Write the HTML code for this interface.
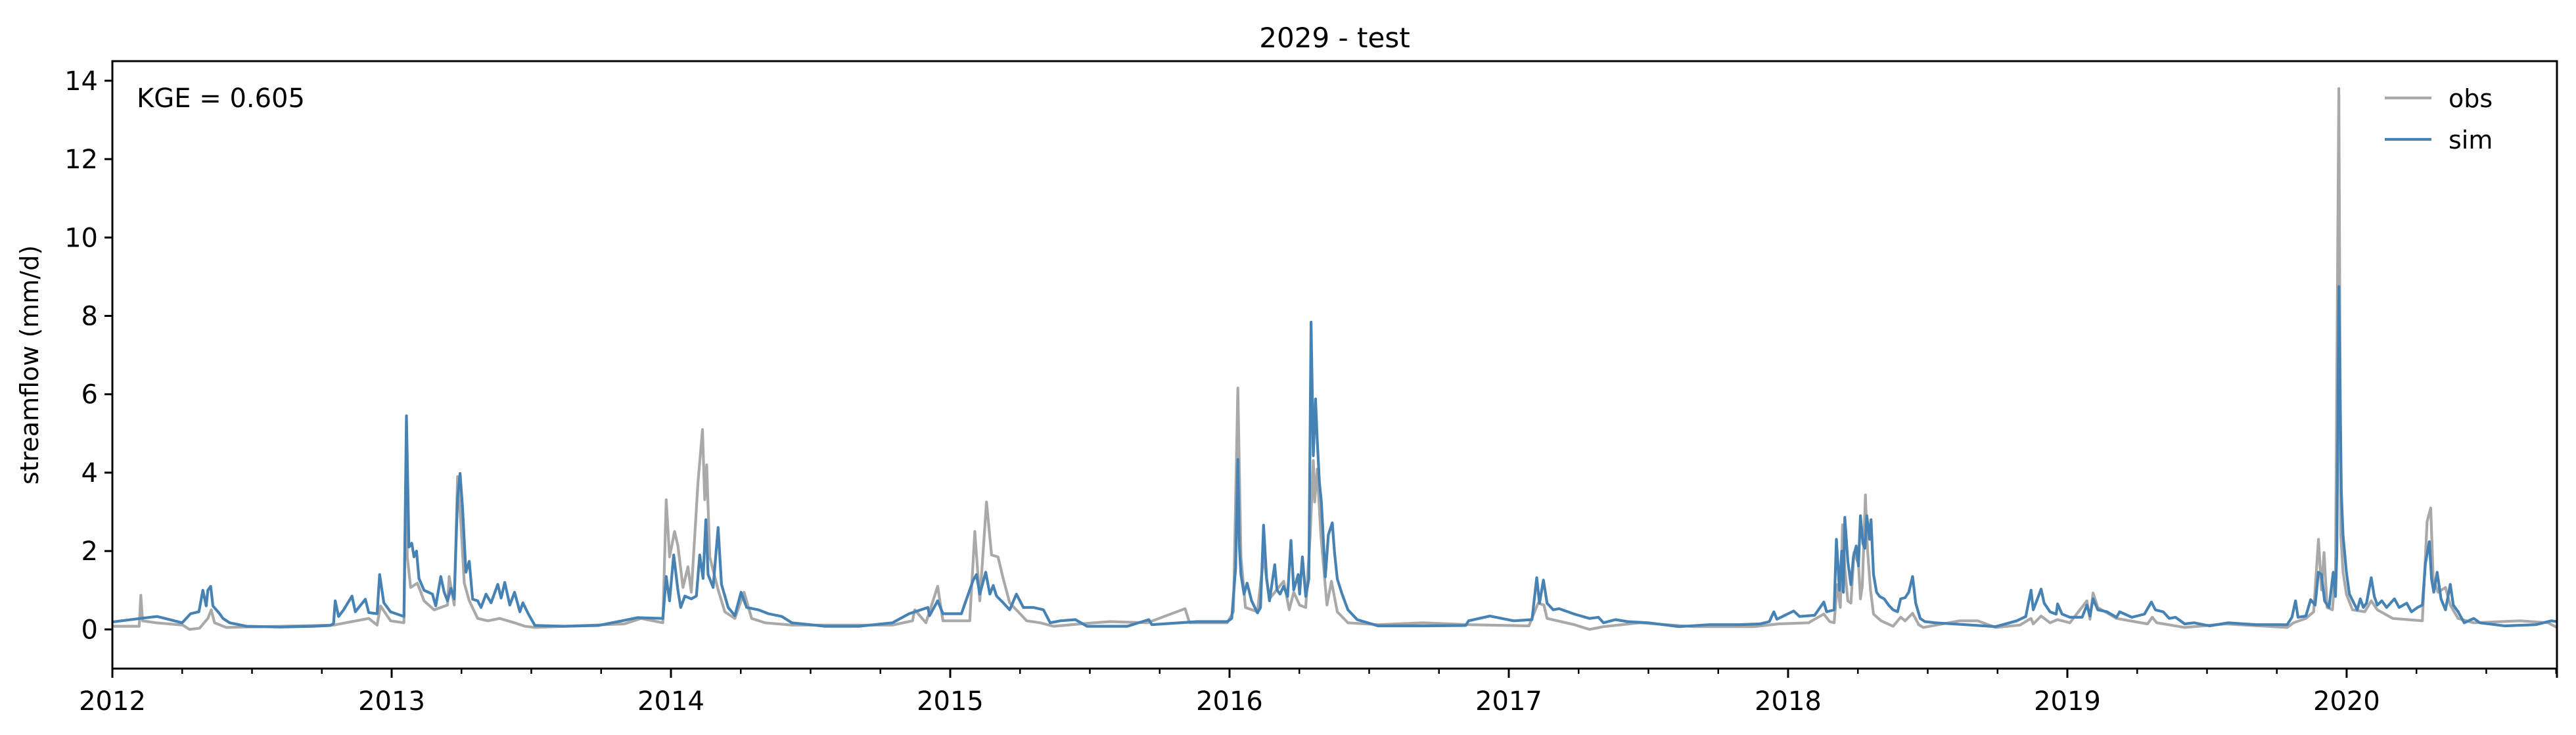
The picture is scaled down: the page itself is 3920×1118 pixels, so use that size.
<!DOCTYPE html>
<html><head><meta charset="utf-8"><style>
html,body{margin:0;padding:0;background:#fff;}
svg{display:block;font-family:"DejaVu Sans","Liberation Sans",sans-serif;}
</style></head><body>
<svg id="chart" width="3920" height="1118" viewBox="0 0 3920 1118" xmlns="http://www.w3.org/2000/svg">
<rect width="3920" height="1118" fill="#fff"/>
<text x="2031" y="72" font-size="42" text-anchor="middle">2029 - test</text>
<text transform="translate(58,555) rotate(-90)" font-size="38" text-anchor="middle">streamflow (mm/d)</text>
<defs><clipPath id="plotclip"><rect x="171" y="93" width="3720" height="924"/></clipPath></defs>
<g id="series" clip-path="url(#plotclip)"></g>
<g id="axes"></g>
<text x="208" y="163" font-size="40">KGE = 0.605</text>
<g>
<line x1="3629" y1="149" x2="3700" y2="149" stroke="#a9a9a9" stroke-width="4.2"/>
<text x="3726" y="163" font-size="38">obs</text>
<line x1="3629" y1="212" x2="3700" y2="212" stroke="#4682b4" stroke-width="4.2"/>
<text x="3726" y="226" font-size="38">sim</text>
</g>
</svg>
<script>
const yTicks=[0,2,4,6,8,10,12,14];
const xTickYears=[2012,2013,2014,2015,2016,2017,2018,2019,2020];
const simT=[2012.00,2012.10,2012.16,2012.25,2012.28,2012.31,2012.324,2012.336,2012.342,2012.352,2012.36,2012.384,2012.396,2012.42,2012.48,2012.60,2012.72,2012.78,2012.792,2012.798,2012.81,2012.828,2012.858,2012.87,2012.906,2012.918,2012.948,2012.957,2012.972,2012.996,2013.044,2013.053,2013.062,2013.072,2013.08,2013.089,2013.098,2013.116,2013.146,2013.158,2013.176,2013.188,2013.20,2013.212,2013.224,2013.236,2013.245,2013.254,2013.266,2013.278,2013.29,2013.308,2013.32,2013.338,2013.356,2013.38,2013.392,2013.405,2013.423,2013.44,2013.459,2013.47,2013.489,2013.513,2013.62,2013.74,2013.825,
2013.88,2013.971,2013.983,2013.995,2014.01,2014.025,2014.035,2014.05,2014.073,2014.091,2014.103,2014.115,2014.125,2014.133,2014.151,2014.169,2014.181,2014.205,2014.229,2014.251,2014.271,2014.313,2014.349,2014.397,2014.433,2014.553,2014.673,2014.793,2014.853,2014.92,2014.926,2014.955,2014.974,2015.04,2015.082,2015.094,2015.106,2015.127,2015.142,2015.154,2015.166,2015.19,2015.213,2015.237,2015.262,2015.298,2015.334,2015.358,2015.394,2015.448,2015.49,2015.634,
2015.711,2015.722,2015.884,2015.992,2016.008,2016.022,2016.03,2016.035,2016.041,2016.052,2016.063,2016.079,2016.10,2016.111,2016.122,2016.133,2016.143,2016.162,2016.17,2016.181,2016.194,2016.208,2016.22,2016.23,2016.246,2016.251,2016.261,2016.273,2016.284,2016.292,2016.30,2016.308,2016.314,2016.322,2016.329,2016.343,2016.354,2016.368,2016.376,2016.386,2016.403,2016.424,2016.457,2016.532,2016.694,2016.846,2016.856,2016.932,2017.018,2017.083,2017.10,2017.11,2017.124,2017.137,2017.159,2017.18,2017.235,2017.289,2017.321,
2017.339,2017.382,2017.425,2017.50,2017.609,2017.717,2017.825,2017.90,2017.933,2017.949,2017.96,2018.02,2018.041,2018.095,2018.128,2018.138,2018.165,2018.173,2018.184,2018.192,2018.198,2018.203,2018.214,2018.225,2018.234,2018.244,2018.252,2018.259,2018.268,2018.275,2018.282,2018.292,2018.297,2018.306,2018.317,2018.328,2018.344,2018.36,2018.376,2018.392,2018.403,2018.419,2018.432,2018.446,2018.457,2018.473,2018.49,2018.527,2018.635,2018.743,2018.819,2018.851,2018.87,2018.878,2018.895,2018.906,2018.917,2018.938,2018.96,2018.965,2018.981,
2019.009,2019.053,2019.07,2019.081,2019.092,2019.109,2019.142,2019.176,2019.187,2019.231,2019.276,2019.301,2019.315,2019.343,2019.365,2019.387,2019.42,2019.454,2019.509,2019.576,2019.676,2019.787,2019.804,2019.817,2019.826,2019.854,2019.871,2019.887,2019.899,2019.91,2019.921,2019.937,2019.952,2019.96,2019.965,2019.972,2019.981,2019.987,2019.999,2020.01,2020.026,2020.038,2020.049,2020.06,2020.071,2020.088,2020.099,2020.11,2020.126,2020.143,2020.171,2020.188,2020.215,2020.232,2020.254,2020.271,2020.282,2020.296,2020.304,2020.312,2020.324,2020.338,2020.354,2020.371,2020.382,2020.399,2020.421,2020.455,2020.477,2020.566,2020.677,2020.733,2020.753];
const simV=[0.19,0.28,0.33,0.17,0.40,0.45,1.00,0.60,1.00,1.10,0.60,0.40,0.28,0.17,0.08,0.06,0.08,0.10,0.15,0.73,0.33,0.50,0.85,0.45,0.77,0.43,0.40,1.40,0.68,0.45,0.33,5.45,2.10,2.20,1.85,2.00,1.30,1.00,0.90,0.60,1.35,0.95,0.73,1.05,0.78,3.37,3.98,3.10,1.46,1.74,0.77,0.73,0.56,0.90,0.68,1.15,0.80,1.20,0.62,0.95,0.45,0.68,0.40,0.10,0.08,0.10,0.22,
0.30,0.28,1.35,0.73,1.90,1.00,0.56,0.85,0.78,0.85,1.90,1.30,2.80,1.40,1.07,2.60,1.15,0.56,0.35,0.95,0.56,0.50,0.40,0.33,0.17,0.08,0.08,0.17,0.40,0.56,0.35,0.73,0.40,0.40,1.25,1.40,0.90,1.46,0.90,1.12,0.85,0.68,0.50,0.90,0.56,0.56,0.50,0.17,0.22,0.25,0.08,0.08,
0.25,0.12,0.20,0.20,0.28,1.57,4.34,2.13,1.40,0.90,1.18,0.73,0.42,0.56,2.66,1.29,0.73,1.65,1.01,0.90,1.10,0.84,2.27,1.01,1.40,0.90,1.85,0.84,1.29,7.84,4.43,5.88,4.87,3.75,3.25,1.34,2.41,2.72,1.96,1.29,0.90,0.50,0.25,0.09,0.09,0.10,0.22,0.34,0.22,0.25,1.32,0.67,1.26,0.67,0.50,0.53,0.39,0.28,0.31,
0.17,0.25,0.20,0.17,0.07,0.12,0.12,0.14,0.20,0.45,0.26,0.47,0.33,0.36,0.70,0.45,0.50,2.30,1.00,2.00,0.95,2.86,1.74,1.14,1.85,2.13,1.62,2.90,2.19,2.07,2.90,2.30,2.80,1.40,0.95,0.84,0.78,0.62,0.50,0.45,0.78,0.81,0.95,1.35,0.67,0.28,0.20,0.17,0.12,0.07,0.22,0.33,1.00,0.50,0.82,1.03,0.67,0.45,0.39,0.65,0.39,
0.31,0.31,0.62,0.34,0.78,0.50,0.45,0.31,0.45,0.31,0.39,0.70,0.50,0.45,0.28,0.31,0.14,0.17,0.09,0.17,0.12,0.12,0.31,0.73,0.31,0.34,0.76,0.62,1.46,1.40,0.73,0.56,1.46,0.84,1.96,8.75,3.50,2.41,1.46,0.90,0.67,0.50,0.78,0.56,0.67,1.32,0.84,0.62,0.73,0.56,0.78,0.56,0.67,0.45,0.56,0.62,1.68,2.24,1.29,0.95,1.46,0.78,0.50,1.15,0.62,0.45,0.17,0.28,0.17,0.09,0.12,0.22,0.20];
const obsT=[2012.00,2012.096,2012.102,2012.108,2012.156,2012.252,2012.276,2012.312,2012.342,2012.354,2012.366,2012.408,2012.792,2012.918,2012.948,2012.96,2012.996,2013.044,2013.053,2013.056,2013.068,2013.092,2013.116,2013.152,2013.20,2013.206,2013.224,2013.236,2013.248,2013.26,2013.278,2013.308,2013.345,2013.387,2013.44,2013.477,2013.513,
2013.833,2013.893,2013.971,2013.983,2013.995,2014.013,2014.025,2014.043,2014.061,2014.073,2014.097,2014.113,2014.121,2014.128,2014.139,2014.169,2014.193,2014.229,2014.262,2014.289,2014.337,2014.433,2014.793,2014.865,2014.873,2014.913,2014.955,2014.974,2015.07,2015.088,2015.106,2015.13,2015.148,2015.171,2015.19,2015.213,2015.274,2015.322,2015.37,2015.514,2015.574,2015.706,
2015.841,2015.857,2015.992,2016.014,2016.03,2016.041,2016.057,2016.10,2016.122,2016.143,2016.194,2016.214,2016.23,2016.251,2016.273,2016.289,2016.30,2016.305,2016.314,2016.327,2016.349,2016.365,2016.386,2016.424,2016.532,2016.694,2016.856,2017.072,2017.105,2017.126,2017.137,2017.235,2017.289,
2017.339,2017.469,2017.663,2017.879,2017.966,2018.074,2018.085,2018.128,2018.149,2018.165,2018.176,2018.187,2018.195,2018.203,2018.214,2018.225,2018.236,2018.252,2018.259,2018.266,2018.277,2018.284,2018.295,2018.306,2018.333,2018.376,2018.403,2018.419,2018.446,2018.468,2018.484,2018.614,2018.679,2018.743,2018.83,2018.87,2018.878,2018.906,2018.938,2018.965,
2019.009,2019.07,2019.081,2019.092,2019.109,2019.176,2019.287,2019.304,2019.32,2019.42,2019.565,2019.787,2019.81,2019.854,2019.882,2019.899,2019.91,2019.919,2019.93,2019.949,2019.96,2019.972,2019.979,2019.987,2019.999,2020.021,2020.065,2020.088,2020.11,2020.165,2020.271,2020.288,2020.301,2020.31,2020.327,2020.354,2020.371,2020.399,2020.455,2020.621,2020.721,2020.753];
const obsV=[0.08,0.08,0.87,0.22,0.17,0.11,0.00,0.03,0.28,0.50,0.17,0.05,0.11,0.28,0.11,0.60,0.22,0.17,4.80,1.85,1.07,1.18,0.73,0.50,0.62,1.35,0.62,3.90,2.70,1.18,0.73,0.28,0.22,0.28,0.17,0.08,0.05,
0.14,0.28,0.17,3.31,1.85,2.50,2.13,1.07,1.60,0.95,3.76,5.10,3.31,4.20,1.85,1.01,0.45,0.28,0.95,0.28,0.17,0.11,0.11,0.22,0.50,0.17,1.10,0.22,0.22,2.50,0.73,3.25,1.90,1.85,1.29,0.68,0.22,0.17,0.08,0.17,0.20,0.17,
0.53,0.17,0.17,0.45,6.16,1.85,0.56,0.45,1.85,0.78,1.23,0.50,0.95,0.62,0.56,2.41,4.31,3.25,4.09,2.41,0.62,1.23,0.45,0.17,0.12,0.17,0.12,0.09,0.67,0.62,0.28,0.12,0.00,
0.07,0.17,0.07,0.07,0.14,0.17,0.22,0.39,0.20,0.17,1.14,0.56,2.67,1.57,0.73,0.67,1.96,1.68,0.78,1.12,3.43,2.07,1.01,0.39,0.22,0.08,0.31,0.22,0.41,0.12,0.05,0.22,0.22,0.05,0.11,0.28,0.14,0.34,0.17,0.25,
0.17,0.73,0.26,0.93,0.56,0.28,0.14,0.31,0.17,0.05,0.14,0.05,0.17,0.28,0.45,2.30,1.01,1.96,0.56,0.50,1.46,13.80,2.41,1.46,0.90,0.50,0.45,0.73,0.50,0.28,0.22,2.75,3.10,1.29,0.95,1.07,0.62,0.28,0.17,0.22,0.17,0.05];

const X0=171,X1=3891,Y0=1017,Y1=93;
const yMin=-1.0,yMax=14.5,tMin=2012.0,tMax=2020.753;
function xs(t){return X0+(t-tMin)/(tMax-tMin)*(X1-X0);}
function ys(v){return Y0-(v-yMin)/(yMax-yMin)*(Y0-Y1);}
const NS='http://www.w3.org/2000/svg';
function mk(tag,attrs,parent){const e=document.createElementNS(NS,tag);for(const k in attrs)e.setAttribute(k,attrs[k]);parent.appendChild(e);return e;}
const series=document.getElementById('series');
function drawLine(T,V,color,name){
  let d='';
  for(let i=0;i<T.length;i++){d+=(i?'L':'M')+xs(T[i]).toFixed(1)+','+ys(V[i]).toFixed(1);}
  const p=mk('path',{d:d,fill:'none',stroke:color,'stroke-width':4.2,'stroke-linejoin':'round'},series);
  
  
}
drawLine(obsT,obsV,'#a9a9a9','obs-line');
drawLine(simT,simV,'#4682b4','sim-line');
const axes=document.getElementById('axes');
const frame=mk('rect',{x:X0,y:Y1,width:X1-X0,height:Y0-Y1,fill:'none',stroke:'#000','stroke-width':3},axes);


yTicks.forEach(v=>{
  const y=ys(v);
  const tk=mk('line',{x1:X0-12,y1:y,x2:X0,y2:y,stroke:'#000','stroke-width':3},axes);
  
  
  const tx=mk('text',{x:X0-22,y:y+14,'font-size':40,'text-anchor':'end'},axes);
  tx.textContent=String(v);
  
  
});
for(let yr=2012;yr<=2020;yr++){
  for(let q=1;q<4;q++){
    const t=yr+q*0.25;
    if(t>tMax)continue;
    const mt=mk('line',{x1:xs(t),y1:Y0,x2:xs(t),y2:Y0+8,stroke:'#000','stroke-width':2.5},axes);
    
    
  }
}
mk('line',{x1:X1,y1:Y0,x2:X1,y2:Y0+14,stroke:'#000','stroke-width':3},axes);
xTickYears.forEach(yr=>{
  const x=xs(yr);
  const tk=mk('line',{x1:x,y1:Y0,x2:x,y2:Y0+14,stroke:'#000','stroke-width':3},axes);
  
  
  const tx=mk('text',{x:x,y:1080,'font-size':40,'text-anchor':'middle'},axes);
  tx.textContent=String(yr);
  
  
});
</script>
</body></html>
